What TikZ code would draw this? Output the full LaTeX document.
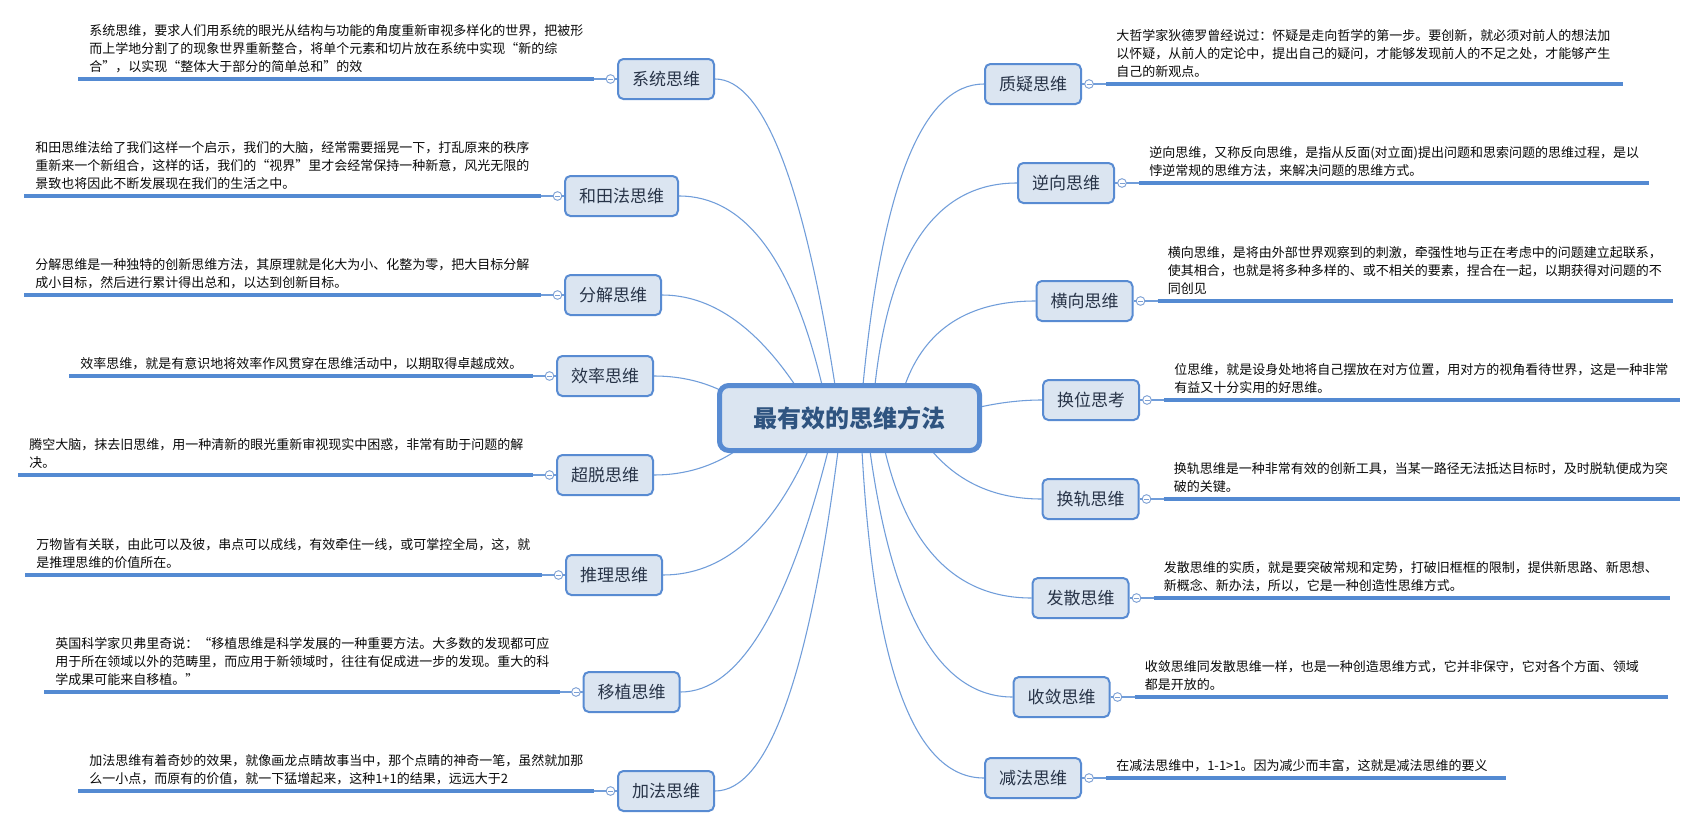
\documentclass[tikz,border=0pt]{standalone}
\usepackage{fontspec}
\newfontfamily\cjk{Noto Sans CJK SC}
\usetikzlibrary{calc,backgrounds}
\definecolor{boxfill}{RGB}{219,229,241}
\definecolor{boxline}{RGB}{88,139,210}
\definecolor{connc}{RGB}{112,157,218}
\definecolor{ulinec}{RGB}{84,138,210}
\definecolor{boxtext}{RGB}{40,52,72}
\definecolor{hubtext}{RGB}{47,84,128}
\definecolor{desctext}{RGB}{10,10,10}
\definecolor{circc}{RGB}{125,160,212}
\tikzset{
 topic/.style={draw=boxline, fill=boxfill, line width=1.5pt, rounded corners=4pt, minimum width=72pt, minimum height=30pt, inner sep=0pt, font={\fontsize{12.75pt}{15pt}\cjk}, text=boxtext},
 hubnode/.style={draw=boxline, fill=boxfill, line width=3.75pt, rounded corners=7pt, minimum width=195pt, minimum height=48.75pt, inner sep=0pt, font={\fontsize{18pt}{21pt}\cjk\bfseries}, text=hubtext},
 desc/.style={inner sep=0pt, align=left, font={\fontsize{9.75pt}{13.5pt}\cjk}, text=desctext},
 conn/.style={draw=connc, line width=0.8pt},
 uline/.style={draw=ulinec, line width=2.9pt},
 stub/.style={draw=connc, line width=0.8pt},
 foldc/.style={draw=circc, fill=white, line width=0.7pt, circle, minimum size=6.5pt, inner sep=0pt},
 foldmark/.style={draw=circc, line width=0.7pt},
}
\newcommand\branch[3]{\draw[conn] (hub.center) -- (#1) .. controls ($(#1)!0.6667!(#2)$) and ($(#3)!0.6667!(#2)$) .. (#3);}
\newcommand\lleaf[4]{%
  \coordinate (#1A) at (#2,#3);
  \draw[stub] (#1.west) -- ($(#1.west)+(-23,0)$);
  \draw[uline] (#1A) -- ($(#1.west)+(-23,0)$);
  \node[foldc] (#1F) at ($(#1.west)+(-6.5,0)$) {};
  \draw[foldmark] ($(#1F)+(-2.5,0)$) -- ($(#1F)+(2.5,0)$);
  \node[desc, anchor=south west] (#1T) at ($(#1A)+(11,-2)$) {#4};
}
\newcommand\rleaf[4]{%
  \coordinate (#1A) at (#2,#3);
  \draw[stub] (#1.east) -- ($(#1.east)+(24,0)$);
  \draw[uline] ($(#1.east)+(24,0)$) -- (#1A);
  \node[foldc] (#1F) at ($(#1.east)+(7,0)$) {};
  \draw[foldmark] ($(#1F)+(-2.5,0)$) -- ($(#1F)+(2.5,0)$);
  \node[desc, anchor=south west] (#1T) at ($(#1.east)+(34,-2)$) {#4};
}
\begin{document}
\begin{tikzpicture}[x=0.75pt, y=-0.75pt]
\useasboundingbox (0,0) rectangle (1698,828);

% central topic
\node[hubnode] (hub) at (849.5,418) {最有效的思维方法};

% left topics
\node[topic] (sys) at (666,79) {系统思维};
\node[topic, minimum width=84.75pt] (wada) at (621.5,196) {和田法思维};
\node[topic] (fenjie) at (613,295) {分解思维};
\node[topic] (xiaolv) at (605,376) {效率思维};
\node[topic] (chaotuo) at (605,475) {超脱思维};
\node[topic] (tuili) at (614,575) {推理思维};
\node[topic] (yizhi) at (631.5,692) {移植思维};
\node[topic] (jiafa) at (666,791) {加法思维};

% right topics
\node[topic] (zhiyi) at (1033,84) {质疑思维};
\node[topic] (nixiang) at (1066,183) {逆向思维};
\node[topic] (hengxiang) at (1084.5,301) {横向思维};
\node[topic] (huanwei) at (1091,400) {换位思考};
\node[topic] (huangui) at (1090.5,499) {换轨思维};
\node[topic] (fasan) at (1080.5,598) {发散思维};
\node[topic] (shoulian) at (1061.5,697) {收敛思维};
\node[topic] (jianfa) at (1033,778) {减法思维};

\begin{scope}[on background layer]
\fill[white] (0,0) rectangle (1698,828);
\branch{835,385}{787,79}{sys.east}
\branch{822,385}{777,196}{wada.east}
\branch{795,385}{734,295}{fenjie.east}
\branch{720,390}{690,376}{xiaolv.east}
\branch{737,450}{700,475}{chaotuo.east}
\branch{808,451}{752,575}{tuili.east}
\branch{828,451}{767,692}{yizhi.east}
\branch{838,451}{794,791}{jiafa.east}
\branch{863,385}{892,84}{zhiyi.west}
\branch{875,385}{897,183}{nixiang.west}
\branch{905,385}{935,301}{hengxiang.west}
\branch{980,407}{1012,400}{huanwei.west}
\branch{932,451}{973,499}{huangui.west}
\branch{885,451}{920,598}{fasan.west}
\branch{870,451}{904,697}{shoulian.west}
\branch{862,451}{880,778}{jianfa.west}
\end{scope}

% left descriptions
\lleaf{sys}{78}{79}{系统思维，要求人们用系统的眼光从结构与功能的角度重新审视多样化的世界，把被形\\而上学地分割了的现象世界重新整合，将单个元素和切片放在系统中实现“新的综\\合”，以实现“整体大于部分的简单总和”的效\strut}
\lleaf{wada}{24}{196}{和田思维法给了我们这样一个启示，我们的大脑，经常需要摇晃一下，打乱原来的秩序\\重新来一个新组合，这样的话，我们的“视界”里才会经常保持一种新意，风光无限的\\景致也将因此不断发展现在我们的生活之中。\strut}
\lleaf{fenjie}{24}{295}{分解思维是一种独特的创新思维方法，其原理就是化大为小、化整为零，把大目标分解\\成小目标，然后进行累计得出总和，以达到创新目标。\strut}
\lleaf{xiaolv}{69}{376}{效率思维，就是有意识地将效率作风贯穿在思维活动中，以期取得卓越成效。\strut}
\lleaf{chaotuo}{18}{475}{腾空大脑，抹去旧思维，用一种清新的眼光重新审视现实中困惑，非常有助于问题的解\\决。\strut}
\lleaf{tuili}{25}{575}{万物皆有关联，由此可以及彼，串点可以成线，有效牵住一线，或可掌控全局，这，就\\是推理思维的价值所在。\strut}
\lleaf{yizhi}{44}{692}{英国科学家贝弗里奇说：“移植思维是科学发展的一种重要方法。大多数的发现都可应\\用于所在领域以外的范畴里，而应用于新领域时，往往有促成进一步的发现。重大的科\\学成果可能来自移植。”\strut}
\lleaf{jiafa}{78}{791}{加法思维有着奇妙的效果，就像画龙点睛故事当中，那个点睛的神奇一笔，虽然就加那\\么一小点，而原有的价值，就一下猛增起来，这种1+1的结果，远远大于2\strut}

% right descriptions
\rleaf{zhiyi}{1623}{84}{大哲学家狄德罗曾经说过：怀疑是走向哲学的第一步。要创新，就必须对前人的想法加\\以怀疑，从前人的定论中，提出自己的疑问，才能够发现前人的不足之处，才能够产生\\自己的新观点。\strut}
\rleaf{nixiang}{1649}{183}{逆向思维，又称反向思维，是指从反面(对立面)提出问题和思索问题的思维过程，是以\\悖逆常规的思维方法，来解决问题的思维方式。\strut}
\rleaf{hengxiang}{1673}{301}{横向思维，是将由外部世界观察到的刺激，牵强性地与正在考虑中的问题建立起联系，\\使其相合，也就是将多种多样的、或不相关的要素，捏合在一起，以期获得对问题的不\\同创见\strut}
\rleaf{huanwei}{1680}{400}{位思维，就是设身处地将自己摆放在对方位置，用对方的视角看待世界，这是一种非常\\有益又十分实用的好思维。\strut}
\rleaf{huangui}{1680}{499}{换轨思维是一种非常有效的创新工具，当某一路径无法抵达目标时，及时脱轨便成为突\\破的关键。\strut}
\rleaf{fasan}{1670}{598}{发散思维的实质，就是要突破常规和定势，打破旧框框的限制，提供新思路、新思想、\\新概念、新办法，所以，它是一种创造性思维方式。\strut}
\rleaf{shoulian}{1668}{697}{收敛思维同发散思维一样，也是一种创造思维方式，它并非保守，它对各个方面、领域\\都是开放的。\strut}
\rleaf{jianfa}{1506}{778}{在减法思维中，1-1>1。因为减少而丰富，这就是减法思维的要义\strut}
\end{tikzpicture}
\end{document}
